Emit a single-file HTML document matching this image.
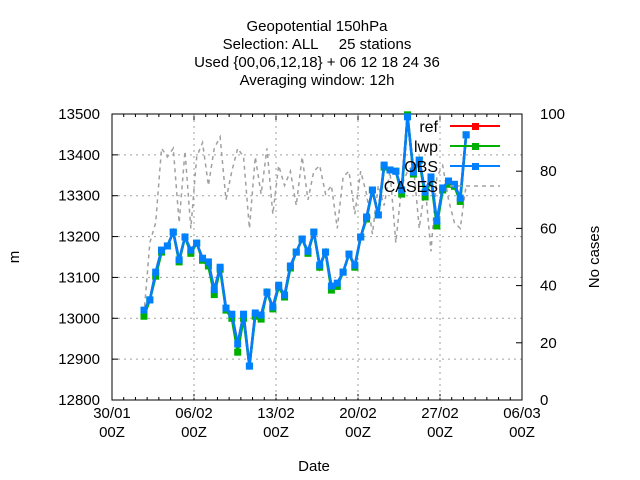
<!DOCTYPE html>
<html><head><meta charset="utf-8"><style>
body{margin:0;background:#fff}
svg{display:block;font-family:"Liberation Sans",sans-serif}
text{white-space:pre}
</style></head><body>
<svg id="c" width="640" height="480"></svg>
<script>
const obs=[13020,13045,13113,13167,13177,13211,13143,13199,13167,13184,13147,13138,13070,13125,13025,13010,12937,13010,12883,13013,13008,13064,13028,13081,13057,13128,13162,13194,13164,13211,13130,13162,13079,13086,13113,13157,13130,13199,13248,13314,13253,13375,13363,13360,13314,13493,13358,13387,13309,13346,13238,13319,13336,13328,13294,13449];
const lwpOff=[-15,0,-10,-5,0,0,-5,0,-8,0,-5,-10,-12,-5,-5,-10,-20,-10,0,-8,-10,0,-5,-5,-5,-5,0,0,-5,0,-5,0,-10,-8,0,0,-5,0,-5,0,0,-5,0,0,-10,5,-5,0,-12,-5,-12,-5,-8,-5,-8,0];
const cases=[30,55,62,88,85,88,62,87,60,85,90,75,88,92,70,80,88,85,60,85,72,88,65,82,75,80,68,85,70,80,82,72,75,60,78,80,65,80,72,58,75,68,80,55,75,80,82,60,75,52,78,82,70,62,60,75];
const xTicks=["30/01","06/02","13/02","20/02","27/02","06/03"];
const yTicks=[12800,12900,13000,13100,13200,13300,13400,13500];
const y2Ticks=[0,20,40,60,80,100];
const titleLines=["Geopotential 150hPa","Selection: ALL     25 stations","Used {00,06,12,18} + 06 12 18 24 36","Averaging window: 12h"];
const startDay=2.73, stepDay=0.5;
const X0=112,X1=522,Y0=400,Y1=114;
const xs=d=>X0+d*(X1-X0)/35;
const ys=v=>Y0-(v-12800)*(Y0-Y1)/700;
const ys2=v=>Y0-v*(Y0-Y1)/100;
const svg=document.getElementById('c');const NS='http://www.w3.org/2000/svg';
function mk(t,a,txt){const e=document.createElementNS(NS,t);for(const k in a)e.setAttribute(k,a[k]);if(txt!==undefined)e.textContent=txt;svg.appendChild(e);return e;}
let e;
titleLines.forEach((t,i)=>{e=mk('text',{x:317,y:31+i*18,'text-anchor':'middle','font-size':15},t);

});
yTicks.forEach(v=>{const y=ys(v);
if(v>12800&&v<13500)mk('line',{x1:X0,x2:X1,y1:y,y2:y,stroke:'#a0a0a0','stroke-dasharray':'2,4'});
mk('line',{x1:X0,x2:X0+6,y1:y,y2:y,stroke:'#000'});
e=mk('text',{x:X0-12,y:y+5,'text-anchor':'end','font-size':15},v);

});
y2Ticks.forEach(v=>{const y=ys2(v);
mk('line',{x1:X1-6,x2:X1,y1:y,y2:y,stroke:'#000'});
e=mk('text',{x:X1+18,y:y+5,'font-size':15},v);

});
for(let d=0;d<=35;d++){const x=xs(d);const maj=d%7==0;
mk('line',{x1:x,x2:x,y1:Y0,y2:Y0-(maj?6:3),stroke:'#000'});
mk('line',{x1:x,x2:x,y1:Y1,y2:Y1+(maj?6:3),stroke:'#000'});
if(maj&&d>0&&d<35)mk('line',{x1:x,x2:x,y1:Y1,y2:Y0,stroke:'#a0a0a0','stroke-dasharray':'2,4'});}
xTicks.forEach((t,i)=>{const x=xs(i*7);
e=mk('text',{x:x,y:418,'text-anchor':'middle','font-size':15},t);


mk('text',{x:x,y:437+5,'text-anchor':'middle','font-size':15},'00Z').setAttribute('y',442-5);});
e=mk('rect',{x:X0,y:Y1,width:X1-X0,height:Y0-Y1,fill:'none',stroke:'#000'});


e=mk('text',{x:314,y:471,'text-anchor':'middle','font-size':15},'Date');


e=mk('text',{x:19,y:257,'text-anchor':'middle','font-size':15,transform:'rotate(-90 19 257)'},'m');


e=mk('text',{x:599,y:257,'text-anchor':'middle','font-size':15,transform:'rotate(-90 599 257)'},'No cases');


const px=i=>xs(startDay+i*stepDay);
e=mk('polyline',{points:cases.map((v,i)=>px(i)+','+ys2(v)).join(' '),fill:'none',stroke:'#a0a0a0','stroke-width':1.5,'stroke-dasharray':'4,4'});


const lwp=obs.map((v,i)=>v+lwpOff[i]);
function series(vals,col,name,sz){
e=mk('polyline',{points:vals.map((v,i)=>px(i)+','+ys(v)).join(' '),fill:'none',stroke:col,'stroke-width':2.5});


vals.forEach((v,i)=>{e=mk('rect',{x:px(i)-sz/2,y:ys(v)-sz/2,width:sz,height:sz,fill:col});

});}
series(obs,'#ff0000','ref',6);
series(lwp,'#00b000','lwp',7);
series(obs,'#0080ff','obs',7);
const leg=[['ref','#ff0000'],['lwp','#00b000'],['OBS','#0080ff'],['CASES','#a0a0a0']];
leg.forEach((l,i)=>{const y=126+i*20;
e=mk('text',{x:438,y:y+6,'text-anchor':'end','font-size':16},l[0]);


if(i<3){mk('line',{x1:450,x2:500,y1:y,y2:y,stroke:l[1],'stroke-width':2});mk('rect',{x:472,y:y-3,width:7,height:7,fill:l[1]});}
else mk('line',{x1:450,x2:500,y1:y,y2:y,stroke:l[1],'stroke-width':1.5,'stroke-dasharray':'4,4'});});
</script></body></html>
